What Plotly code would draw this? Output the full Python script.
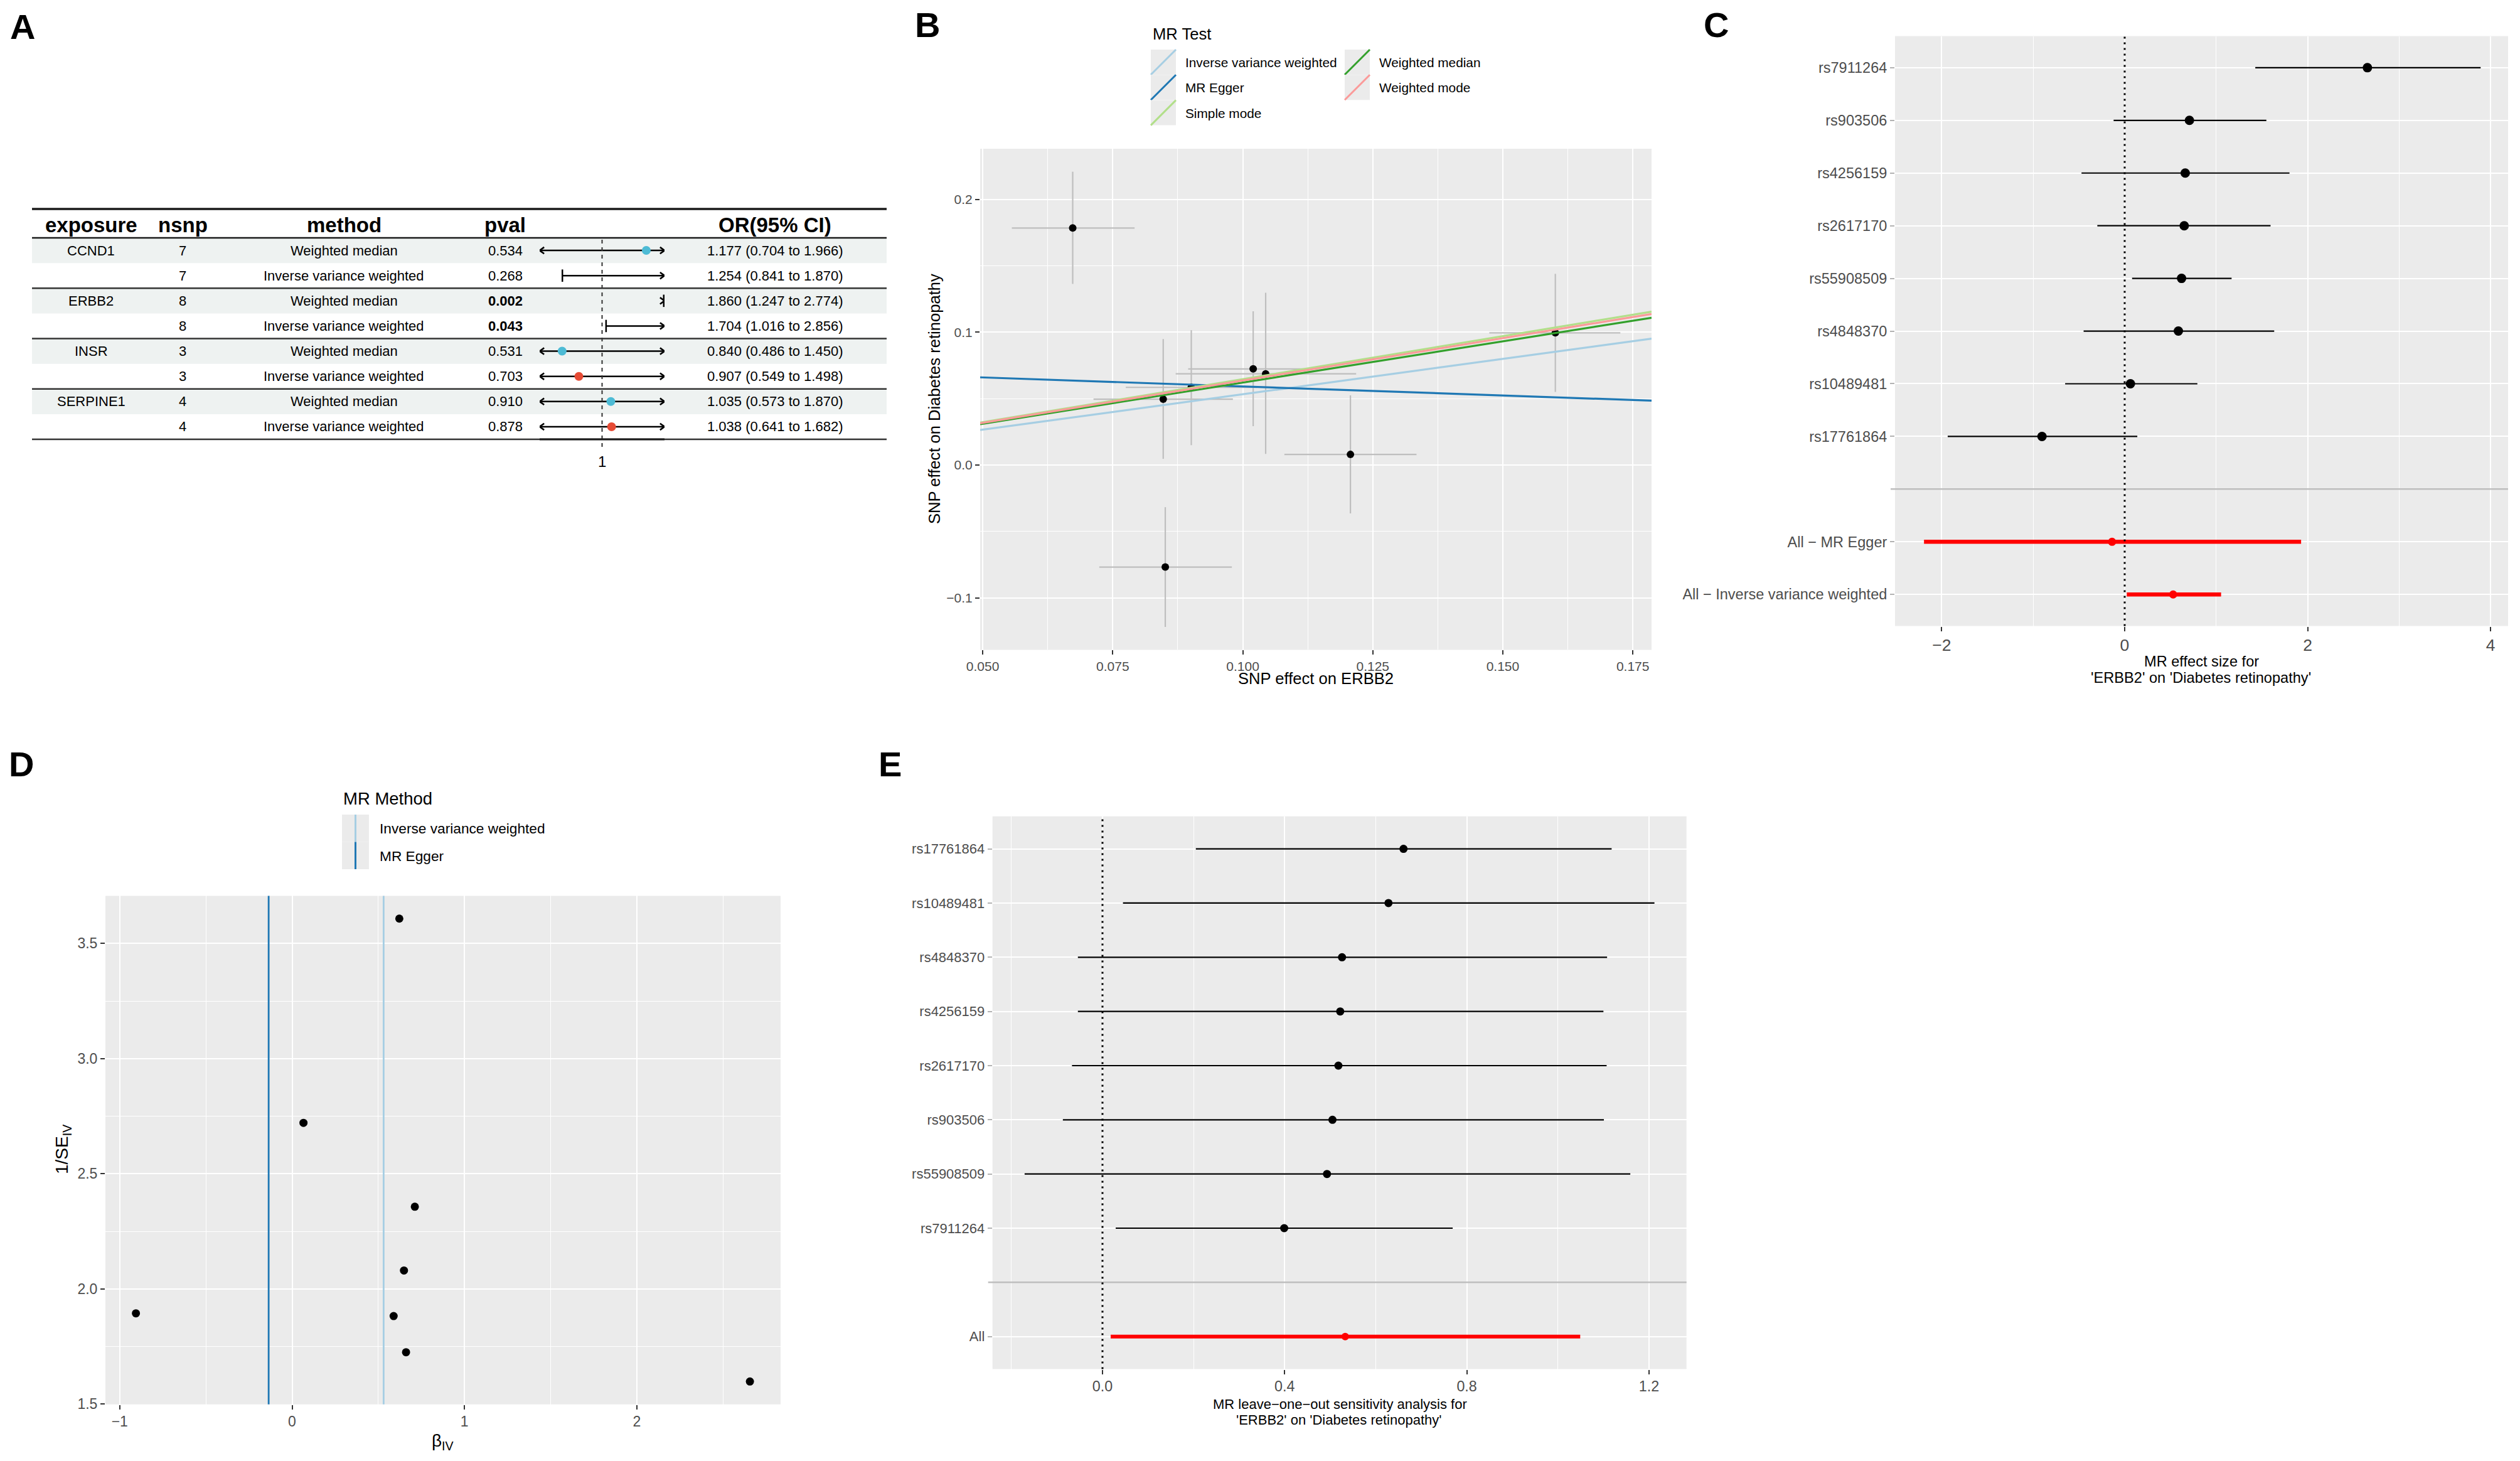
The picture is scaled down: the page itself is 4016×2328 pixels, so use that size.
import plotly.graph_objects as go

W, H = 4016, 2328
OFF = 8  # default page body margin of the written html
FONT = "Liberation Sans, Arial, Helvetica, sans-serif"


def X(px):
    return (px - OFF) / W


def Y(py):
    return 1 - (py - OFF) / H


# ---------------- Panel A data (forest table) ----------------
exposure = ["CCND1", "", "ERBB2", "", "INSR", "", "SERPINE1", ""]
nsnp = [7, 7, 8, 8, 3, 3, 4, 4]
method = ["Weighted median", "Inverse variance weighted"] * 4
pval = ["0.534", "0.268", "0.002", "0.043", "0.531", "0.703", "0.910", "0.878"]
or_val = [1.177, 1.254, 1.860, 1.704, 0.840, 0.907, 1.035, 1.038]
or_lo = [0.704, 0.841, 1.247, 1.016, 0.486, 0.549, 0.573, 0.641]
or_hi = [1.966, 1.870, 2.774, 2.856, 1.450, 1.498, 1.870, 1.682]
a_headers = ["exposure", "nsnp", "method", "pval", "OR(95% CI)"]
a_range = [0.75, 1.25]
a_method_colors = {"Weighted median": "#4DBBD5", "Inverse variance weighted": "#E64B35"}

# ---------------- Panel B data (scatter) ----------------
snp_x = [0.0673, 0.0847, 0.0901, 0.1020, 0.1044, 0.1207, 0.0851, 0.1601]
snp_x_lo = [0.0556, 0.0713, 0.0775, 0.0895, 0.0871, 0.1080, 0.0724, 0.1474]
snp_x_hi = [0.0792, 0.0981, 0.1027, 0.1140, 0.1218, 0.1334, 0.0979, 0.1726]
snp_y = [0.1785, 0.0496, 0.0585, 0.0724, 0.0687, 0.0080, -0.0768, 0.0996]
snp_y_lo = [0.1364, 0.0047, 0.0150, 0.0293, 0.0084, -0.0364, -0.1219, 0.0551]
snp_y_hi = [0.2209, 0.0949, 0.1016, 0.1158, 0.1297, 0.0525, -0.0317, 0.1440]
mr_methods = ["Inverse variance weighted", "MR Egger", "Simple mode",
              "Weighted median", "Weighted mode"]
mr_colors = ["#A6CEE3", "#1F78B4", "#B2DF8A", "#33A02C", "#FB9A99"]
mr_slope = [0.533, -0.136, 0.647, 0.621, 0.637]
mr_intercept = [0.0, 0.0728, 0.0, 0.0, 0.0]
b_xrange = [0.0495, 0.1786]
b_yrange = [-0.1391, 0.2382]
b_xticks = [0.050, 0.075, 0.100, 0.125, 0.150, 0.175]
b_yticks = [-0.1, 0.0, 0.1, 0.2]

# ---------------- Panel C data (single SNP forest) ----------------
c_snp = ["rs7911264", "rs903506", "rs4256159", "rs2617170", "rs55908509",
         "rs4848370", "rs10489481", "rs17761864"]
c_b = [2.654, 0.708, 0.662, 0.651, 0.622, 0.587, 0.063, -0.904]
c_lo = [1.428, -0.121, -0.472, -0.299, 0.081, -0.449, -0.651, -1.935]
c_hi = [3.892, 1.549, 1.802, 1.595, 1.169, 1.635, 0.795, 0.138]
c_all = ["All \u2212 MR Egger", "All \u2212 Inverse variance weighted"]
c_all_b = [-0.138, 0.530]
c_all_lo = [-2.194, 0.023]
c_all_hi = [1.929, 1.054]
c_xticks = [-2, 0, 2, 4]

# ---------------- Panel D data (funnel) ----------------
d_b = [0.622, 0.066, 0.712, 0.649, 0.589, -0.906, 0.661, 2.656]
d_invse = [3.608, 2.721, 2.357, 2.080, 1.882, 1.894, 1.725, 1.598]
d_methods = ["Inverse variance weighted", "MR Egger"]
d_method_b = [0.531, -0.136]
d_colors = ["#A6CEE3", "#1F78B4"]
d_xticks = [-1, 0, 1, 2]
d_yticks = [1.5, 2.0, 2.5, 3.0, 3.5]

# ---------------- Panel E data (leave-one-out) ----------------
e_snp = ["rs17761864", "rs10489481", "rs4848370", "rs4256159", "rs2617170",
         "rs903506", "rs55908509", "rs7911264"]
e_b = [0.661, 0.628, 0.526, 0.522, 0.518, 0.505, 0.493, 0.399]
e_lo = [0.205, 0.045, -0.054, -0.054, -0.067, -0.087, -0.171, 0.029]
e_hi = [1.118, 1.212, 1.108, 1.100, 1.107, 1.101, 1.159, 0.769]
e_all = ["All"]
e_all_b = [0.533]
e_all_lo = [0.018]
e_all_hi = [1.049]
e_xticks = [0.0, 0.4, 0.8, 1.2]

fig = go.Figure()
shapes = []
ann = []


def txt(x, y, s, size, color="black", xanchor="center", angle=0, yref="paper"):
    return dict(x=X(x), y=(Y(y) if yref == "paper" else y), xref="paper", yref=yref,
                text=s, showarrow=False, textangle=angle,
                font=dict(size=size, color=color, family=FONT),
                xanchor=xanchor, yanchor="middle")


def hline_px(x0, x1, y, width, color="#1a1a1a"):
    shapes.append(dict(type="line", xref="paper", yref="paper", x0=X(x0), x1=X(x1),
                       y0=Y(y), y1=Y(y), line=dict(color=color, width=width)))


# =============== Panel A ===============
A_L, A_R = 51, 1413
A_TOP, A_HEAD, A_BOT = 333, 379, 700
nrows = len(exposure)
col_x = [145, 291, 548, 805, 1235]

for i in range(nrows):
    if i % 2 == 0:
        shapes.append(dict(type="rect", xref="paper", yref="y5", x0=X(A_L), x1=X(A_R),
                           y0=i + 0.5, y1=i + 1.5, fillcolor="#EEF2F1",
                           line=dict(width=0), layer="below"))
hline_px(A_L, A_R, A_TOP, 3.5)
hline_px(A_L, A_R, A_HEAD, 2.5)
for g in range(2, nrows, 2):
    shapes.append(dict(type="line", xref="paper", yref="y5", x0=X(A_L), x1=X(A_R),
                       y0=g + 0.5, y1=g + 0.5, line=dict(color="#333333", width=2.5)))
hline_px(A_L, A_R, A_BOT, 2.5, "#333333")

for cx, h in zip(col_x, a_headers):
    ann.append(txt(cx, 358, "<b>%s</b>" % h, 33))
for i in range(nrows):
    r = i + 1
    if exposure[i]:
        ann.append(txt(col_x[0], r, exposure[i], 22, yref="y5"))
    ann.append(txt(col_x[1], r, str(nsnp[i]), 22, yref="y5"))
    ann.append(txt(col_x[2], r, method[i], 22, yref="y5"))
    p = pval[i]
    ann.append(txt(col_x[3], r, ("<b>%s</b>" % p) if float(p) < 0.05 else p, 22, yref="y5"))
    ann.append(txt(col_x[4], r, "%.3f (%.3f to %.3f)" % (or_val[i], or_lo[i], or_hi[i]),
                   22, yref="y5"))

# reference line and axis for the forest column
shapes.append(dict(type="line", xref="x5", yref="paper", x0=1, x1=1, y0=Y(712), y1=Y(381),
                   line=dict(color="#333333", width=2, dash="6px,6px")))
shapes.append(dict(type="line", xref="x5", yref="paper", x0=a_range[0], x1=a_range[1],
                   y0=Y(A_BOT), y1=Y(A_BOT), line=dict(color="#1a1a1a", width=3)))
ann.append(dict(x=1, y=Y(735), xref="x5", yref="paper", text="1", showarrow=False,
                font=dict(size=24, color="black", family=FONT), yanchor="middle"))

ARR_DX, ARR_DY = 0.018, 0.13  # arrowhead half-size in axis units
ci_x, ci_y, cap_x, cap_y = [], [], [], []
for i in range(nrows):
    r = i + 1
    lo_c = max(or_lo[i], a_range[0])
    hi_c = min(or_hi[i], a_range[1])
    ci_x += [lo_c, hi_c, None]
    ci_y += [r, r, None]
    for end, clipped, d in [(lo_c, or_lo[i] < a_range[0], 1), (hi_c, or_hi[i] > a_range[1], -1)]:
        if clipped:
            shapes.append(dict(type="path", xref="x5", yref="y5",
                               path="M %f,%f L %f,%f L %f,%f" % (
                                   end + d * ARR_DX, r - ARR_DY, end, r,
                                   end + d * ARR_DX, r + ARR_DY),
                               line=dict(color="black", width=2.6)))
        else:
            cap_x.append(end); cap_y.append(r)

fig.add_trace(go.Scatter(x=ci_x, y=ci_y, mode="lines", xaxis="x5", yaxis="y5",
                         line=dict(color="black", width=2.5), hoverinfo="skip"))
fig.add_trace(go.Scatter(x=cap_x, y=cap_y, mode="markers", xaxis="x5", yaxis="y5",
                         marker=dict(symbol="line-ns", size=14,
                                     line=dict(color="black", width=2.5)),
                         hoverinfo="skip"))
pt_x = [v for v in or_val if a_range[0] <= v <= a_range[1]]
pt_y = [i + 1 for i, v in enumerate(or_val) if a_range[0] <= v <= a_range[1]]
pt_c = [a_method_colors[method[i]] for i, v in enumerate(or_val)
        if a_range[0] <= v <= a_range[1]]
fig.add_trace(go.Scatter(x=pt_x, y=pt_y, mode="markers", xaxis="x5", yaxis="y5",
                         marker=dict(size=14, color=pt_c), hoverinfo="skip"))


# =============== axis helper ===============
def axis(domain, rng, tickvals, ticktext, fsize, minor=None, tickcolor="#333333"):
    d = dict(domain=domain, range=rng, tickmode="array", tickvals=tickvals,
             ticktext=ticktext, ticks="outside", ticklen=7, tickwidth=2,
             tickcolor=tickcolor,
             tickfont=dict(size=fsize, color="#4D4D4D", family=FONT),
             showgrid=True, gridcolor="white", gridwidth=2.2, zeroline=False,
             showline=False, fixedrange=True, automargin=False)
    if minor:
        d["minor"] = dict(tickmode="array", tickvals=minor, showgrid=True,
                          gridcolor="white", gridwidth=1.1, ticks="")
    return d


def minus(s):
    return s.replace("-", "\u2212")


def panel_bg(xr, yr):
    shapes.append(dict(type="rect", xref=xr + " domain", yref=yr + " domain",
                       x0=0, x1=1, y0=0, y1=1, fillcolor="#EBEBEB",
                       line=dict(width=0), layer="below"))


# =============== Panel B ===============
panel_bg("x", "y")
fig.add_trace(go.Scatter(
    x=snp_x, y=snp_y, mode="markers", xaxis="x", yaxis="y",
    marker=dict(size=12, color="black"),
    error_x=dict(type="data", symmetric=False,
                 array=[h - v for h, v in zip(snp_x_hi, snp_x)],
                 arrayminus=[v - l for l, v in zip(snp_x_lo, snp_x)],
                 color="#BEBEBE", thickness=2.2, width=0),
    error_y=dict(type="data", symmetric=False,
                 array=[h - v for h, v in zip(snp_y_hi, snp_y)],
                 arrayminus=[v - l for l, v in zip(snp_y_lo, snp_y)],
                 color="#BEBEBE", thickness=2.2, width=0),
    hoverinfo="skip"))
for m, col, b, a in zip(mr_methods, mr_colors, mr_slope, mr_intercept):
    fig.add_trace(go.Scatter(x=b_xrange, y=[a + b * v for v in b_xrange], mode="lines",
                             xaxis="x", yaxis="y", name=m,
                             line=dict(color=col, width=3.2), hoverinfo="skip"))

ann.append(txt(2097, 1081, "SNP effect on ERBB2", 25.6))
ann.append(txt(1489, 636, "SNP effect on Diabetes retinopathy", 25.6, angle=-90))
# legend B
ann.append(txt(1835, 54, "MR Test", 25.6, xanchor="left"))
for i, (m, col) in enumerate(zip(mr_methods, mr_colors)):
    c, r = i // 3, i % 3
    kx0 = [1834, 2143][c]
    ky0 = 79 + 40.3 * r
    shapes.append(dict(type="rect", xref="paper", yref="paper", x0=X(kx0), x1=X(kx0 + 40),
                       y0=Y(ky0 + 40), y1=Y(ky0), fillcolor="#EBEBEB", line=dict(width=0)))
    shapes.append(dict(type="line", xref="paper", yref="paper", x0=X(kx0), x1=X(kx0 + 40),
                       y0=Y(ky0 + 40), y1=Y(ky0), line=dict(color=col, width=3)))
    ann.append(txt(kx0 + 53, ky0 + 20.5, m, 20.8, xanchor="left"))

# =============== Panel C ===============
panel_bg("x2", "y2")
c_rows = list(range(1, len(c_snp) + 1))
c_sep = len(c_snp) + 1
c_all_rows = [c_sep + 1 + k for k in range(len(c_all))]
shapes.append(dict(type="line", xref="x2 domain", yref="y2", x0=-7 / 977, x1=1,
                   y0=c_sep, y1=c_sep, line=dict(color="#BEBEBE", width=2.5)))
shapes.append(dict(type="line", xref="x2", yref="y2 domain", x0=0, x1=0, y0=0, y1=1,
                   line=dict(color="black", width=3, dash="3px,6px")))
fig.add_trace(go.Scatter(
    x=c_b, y=c_rows, mode="markers", xaxis="x2", yaxis="y2",
    marker=dict(size=15, color="black"),
    error_x=dict(type="data", symmetric=False,
                 array=[h - v for h, v in zip(c_hi, c_b)],
                 arrayminus=[v - l for l, v in zip(c_lo, c_b)],
                 color="black", thickness=2.2, width=0),
    hoverinfo="skip"))
fig.add_trace(go.Scatter(
    x=c_all_b, y=c_all_rows, mode="markers", xaxis="x2", yaxis="y2",
    marker=dict(size=13, color="#FF0000"),
    error_x=dict(type="data", symmetric=False,
                 array=[h - v for h, v in zip(c_all_hi, c_all_b)],
                 arrayminus=[v - l for l, v in zip(c_all_lo, c_all_b)],
                 color="#FF0000", thickness=6.5, width=0),
    hoverinfo="skip"))
ann.append(txt(3508, 1054, "MR effect size for", 23.6))
ann.append(txt(3507, 1080, "'ERBB2' on 'Diabetes retinopathy'", 23.6))

# =============== Panel D ===============
panel_bg("x3", "y3")
for mb, col in zip(d_method_b, d_colors):
    shapes.append(dict(type="line", xref="x3", yref="y3 domain", x0=mb, x1=mb, y0=0, y1=1,
                       line=dict(color=col, width=2.8)))
fig.add_trace(go.Scatter(x=d_b, y=d_invse, mode="markers", xaxis="x3", yaxis="y3",
                         marker=dict(size=13, color="black"), hoverinfo="skip"))
ann.append(txt(705, 2297, "\u03b2<sub>IV</sub>", 28))
ann.append(txt(100, 1832, "1/SE<sub>IV</sub>", 28, angle=-90))
ann.append(txt(545, 1272, "MR Method", 27.5, xanchor="left"))
for i, (m, col) in enumerate(zip(d_methods, d_colors)):
    ky0 = 1298 + 43.5 * i
    shapes.append(dict(type="rect", xref="paper", yref="paper", x0=X(545), x1=X(588),
                       y0=Y(ky0 + 43.5), y1=Y(ky0), fillcolor="#EBEBEB", line=dict(width=0)))
    shapes.append(dict(type="line", xref="paper", yref="paper", x0=X(566.5), x1=X(566.5),
                       y0=Y(ky0 + 43.5), y1=Y(ky0), line=dict(color=col, width=3)))
    ann.append(txt(603, ky0 + 22, m, 22.7, xanchor="left"))

# =============== Panel E ===============
panel_bg("x4", "y4")
e_rows = list(range(1, len(e_snp) + 1))
e_sep = len(e_snp) + 1
e_all_rows = [e_sep + 1 + k for k in range(len(e_all))]
shapes.append(dict(type="line", xref="x4 domain", yref="y4", x0=-7 / 1106, x1=1,
                   y0=e_sep, y1=e_sep, line=dict(color="#BEBEBE", width=2.5)))
shapes.append(dict(type="line", xref="x4", yref="y4 domain", x0=0, x1=0, y0=0, y1=1,
                   line=dict(color="black", width=3, dash="3px,6px")))
fig.add_trace(go.Scatter(
    x=e_b, y=e_rows, mode="markers", xaxis="x4", yaxis="y4",
    marker=dict(size=13, color="black"),
    error_x=dict(type="data", symmetric=False,
                 array=[h - v for h, v in zip(e_hi, e_b)],
                 arrayminus=[v - l for l, v in zip(e_lo, e_b)],
                 color="black", thickness=2.2, width=0),
    hoverinfo="skip"))
fig.add_trace(go.Scatter(
    x=e_all_b, y=e_all_rows, mode="markers", xaxis="x4", yaxis="y4",
    marker=dict(size=12, color="#FF0000"),
    error_x=dict(type="data", symmetric=False,
                 array=[h - v for h, v in zip(e_all_hi, e_all_b)],
                 arrayminus=[v - l for l, v in zip(e_all_lo, e_all_b)],
                 color="#FF0000", thickness=6, width=0),
    hoverinfo="skip"))
ann.append(txt(2135, 2237, "MR leave\u2212one\u2212out sensitivity analysis for", 22))
ann.append(txt(2133, 2262, "'ERBB2' on 'Diabetes retinopathy'", 22))

# =============== panel letters ===============
for lx, ly, lt in [(36, 43, "A"), (1478, 40, "B"), (2735, 40, "C"),
                   (34, 1217, "D"), (1418, 1217, "E")]:
    ann.append(txt(lx, ly, "<b>%s</b>" % lt, 56))

fig.update_layout(
    width=W, height=H, autosize=False,
    margin=dict(l=0, r=0, t=0, b=0, pad=0, autoexpand=False),
    paper_bgcolor="white", plot_bgcolor="rgba(0,0,0,0)",
    showlegend=False,
    font=dict(family=FONT, color="black"),
    xaxis=axis([X(1562), X(2632)], b_xrange, b_xticks, ["%.3f" % v for v in b_xticks], 21,
               minor=[0.0625, 0.0875, 0.1125, 0.1375, 0.1625]),
    yaxis=axis([Y(1035.4), Y(237)], b_yrange, b_yticks,
               [minus("%.1f" % v) for v in b_yticks], 21, minor=[-0.05, 0.05, 0.15]),
    xaxis2=axis([X(3020), X(3997)], [-2.511, 4.192], c_xticks,
                [minus(str(v)) for v in c_xticks], 26.5, minor=[-1, 1, 3]),
    yaxis2=axis([Y(997.6), Y(57.5)], [len(c_snp) + len(c_all) + 1.6, 0.4],
                c_rows + c_all_rows, c_snp + c_all, 23.5, tickcolor="#B3B3B3"),
    xaxis3=axis([X(168), X(1244)], [-1.083, 2.834], d_xticks,
                [minus(str(v)) for v in d_xticks], 23, minor=[-0.5, 0.5, 1.5, 2.5]),
    yaxis3=axis([Y(2237.8), Y(1427.4)], [1.4985, 3.707], d_yticks,
                ["%.1f" % v for v in d_yticks], 23, minor=[1.75, 2.25, 2.75, 3.25]),
    xaxis4=axis([X(1581.7), X(2687.7)], [-0.2415, 1.2824], e_xticks,
                ["%.1f" % v for v in e_xticks], 23.3, minor=[-0.2, 0.2, 0.6, 1.0]),
    yaxis4=axis([Y(2181.5), Y(1300.8)], [len(e_snp) + len(e_all) + 1.6, 0.4],
                e_rows + e_all_rows, e_snp + e_all, 22, tickcolor="#B3B3B3"),
    xaxis5=dict(domain=[X(860), X(1059)], range=a_range, visible=False, fixedrange=True,
                automargin=False),
    yaxis5=dict(domain=[Y(A_BOT), Y(A_HEAD)], range=[nrows + 0.5, 0.5], visible=False,
                fixedrange=True, automargin=False),
    shapes=shapes,
    annotations=ann,
)
for ax_name, an in [("xaxis", "y"), ("xaxis2", "y2"), ("xaxis3", "y3"), ("xaxis4", "y4"),
                    ("xaxis5", "y5")]:
    fig.layout[ax_name].anchor = an
for ax_name, an in [("yaxis", "x"), ("yaxis2", "x2"), ("yaxis3", "x3"), ("yaxis4", "x4"),
                    ("yaxis5", "x5")]:
    fig.layout[ax_name].anchor = an

fig.write_html("out.html")
